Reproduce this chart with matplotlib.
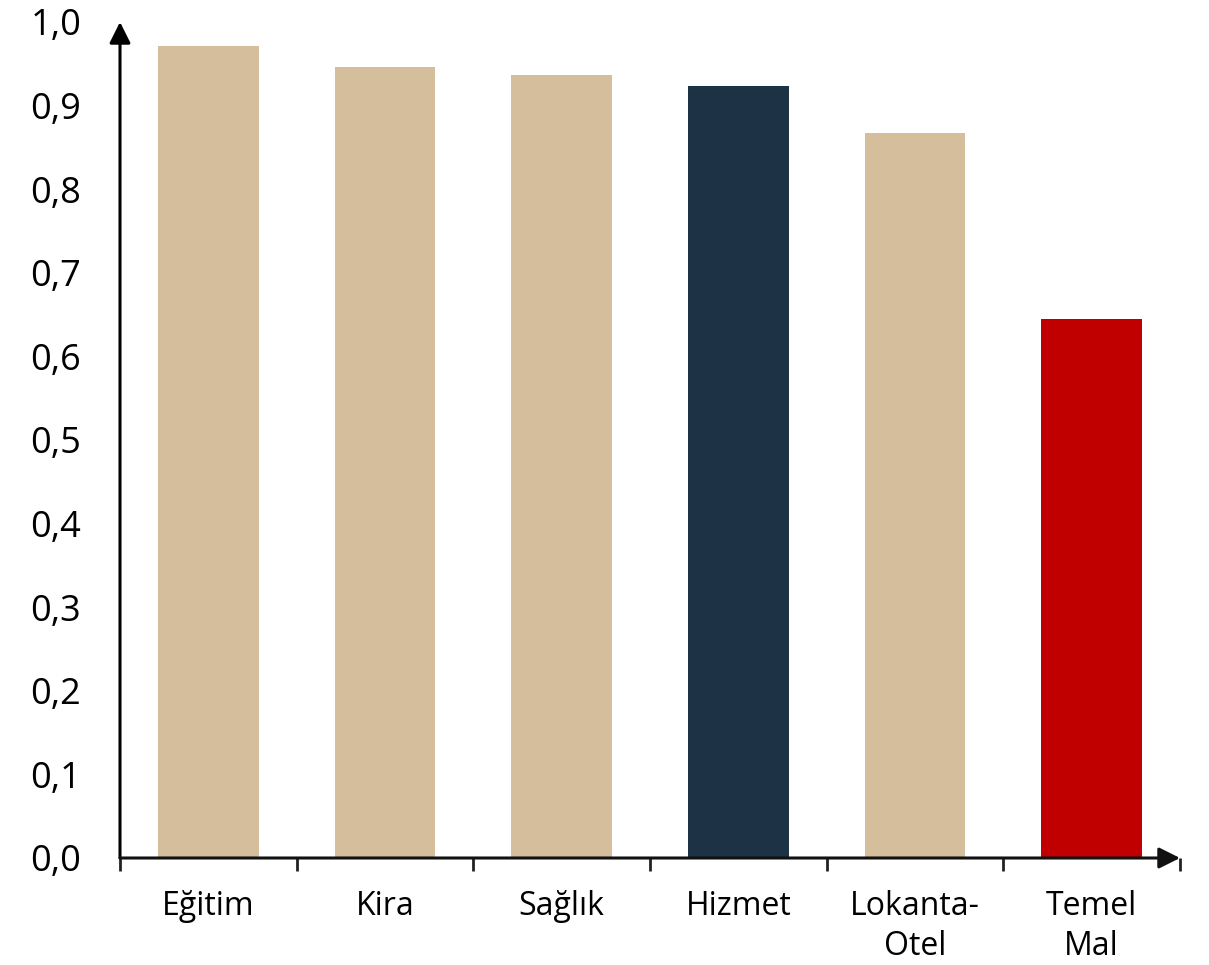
import matplotlib
matplotlib.use("Agg")
import matplotlib.pyplot as plt

plt.rcParams['font.family'] = ['Open Sans', 'DejaVu Sans']

# values
categories = ["Eğitim", "Kira", "Sağlık", "Hizmet", "Lokanta-\nOtel", "Temel\nMal"]
values = [0.971, 0.946, 0.937, 0.923, 0.867, 0.645]
bar_colors = ["#D5BE9B", "#D5BE9B", "#D5BE9B", "#1E3246", "#D5BE9B", "#C00000"]
y_ticks = [0.0, 0.1, 0.2, 0.3, 0.4, 0.5, 0.6, 0.7, 0.8, 0.9, 1.0]
y_tick_labels = ["0,0", "0,1", "0,2", "0,3", "0,4", "0,5", "0,6", "0,7", "0,8", "0,9", "1,0"]

fig = plt.figure(figsize=(12.09, 9.65), dpi=100)
ax = fig.add_axes([120 / 1209, 1 - 858 / 965, 1060 / 1209, 836 / 965])

x = list(range(len(categories)))
ax.bar(x, values, width=0.57, color=bar_colors, zorder=2)

ax.set_xlim(-0.5, len(categories) - 0.5)
ax.set_ylim(0, 1.0)

ax.set_yticks(y_ticks)
ax.set_yticklabels(y_tick_labels, fontsize=26)
ax.tick_params(axis='y', length=0, pad=28)

# category labels between tick marks at the boundaries
ax.set_xticks([i - 0.5 for i in range(len(categories) + 1)])
ax.set_xticklabels([])
ax.set_xticks(x, minor=True)
ax.set_xticklabels(categories, minor=True, fontsize=23, linespacing=1.3)
ax.tick_params(axis='x', which='major', direction='out', length=9, width=2, color='#222222')
ax.tick_params(axis='x', which='minor', length=0, pad=23)

for s in ax.spines.values():
    s.set_visible(False)

# axes with arrow heads
ax.annotate('', xy=(0, 1.0), xytext=(0, 0), xycoords='axes fraction',
            arrowprops=dict(arrowstyle='-|>', color='black', lw=2.2, mutation_scale=32,
                            shrinkA=0, shrinkB=0), annotation_clip=False)
ax.annotate('', xy=(1.0, 0), xytext=(0, 0), xycoords='axes fraction',
            arrowprops=dict(arrowstyle='-|>', color='#111111', lw=2.2, mutation_scale=32,
                            shrinkA=0, shrinkB=0), annotation_clip=False)

fig.savefig("out.png", dpi=100)
